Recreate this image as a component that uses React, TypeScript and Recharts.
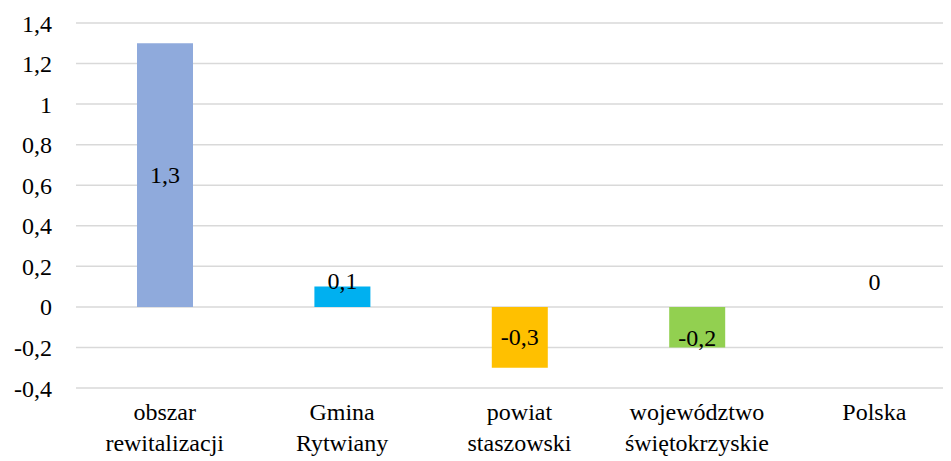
import React, { useEffect, useState } from "react";
import { BarChart, Bar, XAxis, YAxis, CartesianGrid, Cell, LabelList } from "recharts";

const categories = ["obszar rewitalizacji", "Gmina Rytwiany", "powiat staszowski", "województwo świętokrzyskie", "Polska"];
const categoryLines = [
  ["obszar", "rewitalizacji"],
  ["Gmina", "Rytwiany"],
  ["powiat", "staszowski"],
  ["województwo", "świętokrzyskie"],
  ["Polska", ""],
];
const values = [1.3, 0.1, -0.3, -0.2, 0];
const valueLabels = ["1,3", "0,1", "-0,3", "-0,2", "0"];
const barColors = ["#8FAADC", "#00B0F0", "#FFC000", "#92D050", "transparent"];
const yTicks = [-0.4, -0.2, 0, 0.2, 0.4, 0.6, 0.8, 1, 1.2, 1.4];

const data = categories.map((name, i) => ({ name, value: values[i], label: valueLabels[i] }));

const FONT = "'Liberation Serif', 'Times New Roman', serif";
const FS = 24;

const SAMPLE = "obszar rewitalizacji Gmina Rytwiany województwo świętokrzyskie 0123456789,-";
const loadFonts = () => {
  try {
    const fs: any = (document as any).fonts;
    if (!fs || !fs.load) return Promise.resolve();
    return Promise.all([
      fs.load(`${FS}px "Liberation Serif"`, SAMPLE),
      fs.load(`${FS}px "Times New Roman"`, SAMPLE),
    ]).catch(() => undefined);
  } catch (e) {
    return Promise.resolve();
  }
};
const earlyLoad = typeof document !== "undefined" ? loadFonts() : Promise.resolve();

const fmt = (v: number) => String(Math.round(v * 10) / 10).replace(".", ",");

const XTick = (props: any) => {
  const { x, y, index } = props;
  const lines = categoryLines[index] || [];
  return (
    <g>
      <text x={x} y={y + 24} textAnchor="middle" fill="#000" fontFamily={FONT} fontSize={FS}>
        {lines[0]}
      </text>
      {lines[1] ? (
        <text x={x} y={y + 55} textAnchor="middle" fill="#000" fontFamily={FONT} fontSize={FS}>
          {lines[1]}
        </text>
      ) : null}
    </g>
  );
};

const BarLabel = (props: any) => {
  const { x, y, width, height, index } = props;
  const v = values[index];
  const h = Math.abs(height || 0);
  const top = Math.min(y, y + (height || 0));
  let cy = top + h / 2;
  if (h < 50) cy += v > 0 ? -16 : v < 0 ? 11 : -24;
  return (
    <text x={x + width / 2} y={cy + 8} textAnchor="middle" fill="#000" fontFamily={FONT} fontSize={FS}>
      {valueLabels[index]}
    </text>
  );
};

export default function App() {
  const [ver, setVer] = useState(0);
  useEffect(() => {
    earlyLoad.then(() => setVer((v) => v + 1));
  }, []);
  return (
    <div style={{ fontFamily: FONT }}>
      <BarChart
        key={ver}
        width={943}
        height={453}
        data={data}
        margin={{ top: 15, right: -12, bottom: 0, left: 8 }}
      >
        <CartesianGrid vertical={false} stroke="#D9D9D9" strokeWidth={1.5} />
        <XAxis
          dataKey="name"
          axisLine={false}
          tickLine={false}
          height={73}
          interval={0}
          tick={<XTick />}
        />
        <YAxis
          domain={[-0.4, 1.4]}
          ticks={yTicks}
          width={60}
          axisLine={false}
          tickLine={false}
          tickMargin={18}
          tickFormatter={fmt}
          tick={{ fill: "#000", fontFamily: FONT, fontSize: FS }}
          interval={0}
        />
        <Bar dataKey="value" barSize={56} minPointSize={1} isAnimationActive={false}>
          {data.map((d, i) => (
            <Cell key={i} fill={barColors[i]} />
          ))}
          <LabelList dataKey="label" content={<BarLabel />} />
        </Bar>
      </BarChart>
    </div>
  );
}
